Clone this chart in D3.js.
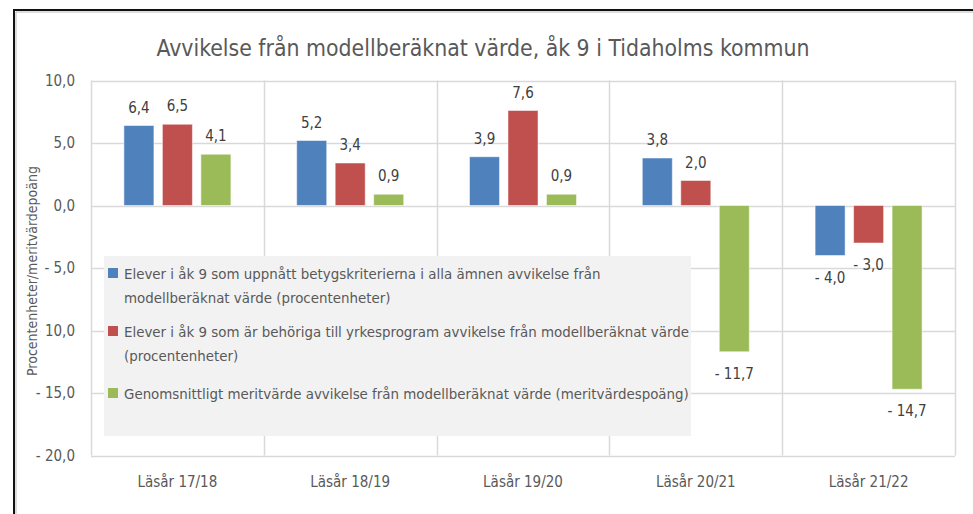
<!DOCTYPE html>
<html>
<head>
<meta charset="utf-8">
<script src="https://cdn.jsdelivr.net/npm/d3@7"></script>
<style>
  html, body { margin: 0; padding: 0; background: #fff; }
  svg { display: block; }
  text { font-family: "Liberation Sans Narrow", "DejaVu Sans Condensed", "Roboto Condensed", "Open Sans", sans-serif; }
</style>
</head>
<body>
<div id="chart"></div>
<script>
const title = "Avvikelse från modellberäknat värde, åk 9 i Tidaholms kommun";
const yTitle = "Procentenheter/meritvärdepoäng";
const categories = ["Läsår 17/18", "Läsår 18/19", "Läsår 19/20", "Läsår 20/21", "Läsår 21/22"];
const seriesNames = [
  ["Elever i åk 9 som uppnått betygskriterierna i alla ämnen avvikelse från", "modellberäknat värde (procentenheter)"],
  ["Elever i åk 9 som är behöriga till yrkesprogram avvikelse från modellberäknat värde", "(procentenheter)"],
  ["Genomsnittligt meritvärde avvikelse från modellberäknat värde (meritvärdespoäng)"]
];
const seriesColors = ["#4F81BD", "#C0504D", "#9BBB59"];
const blueValues = [6.4, 5.2, 3.9, 3.8, -4.0];
const redValues = [6.5, 3.4, 7.6, 2.0, -3.0];
const greenValues = [4.1, 0.9, 0.9, -11.7, -14.7];
const yTicks = [10, 5, 0, -5, -10, -15, -20];
const seriesValues = [blueValues, redValues, greenValues];

const W = 973, H = 514;
const svg = d3.select("#chart").append("svg").attr("width", W).attr("height", H);

const plot = { left: 91, right: 955, top: 80.5, bottom: 455.5 };

// outer frame
svg.append("path")
  .attr("d", `M14,514 L14,10 L973,10`)
  .attr("fill", "none").attr("stroke", "#111").attr("stroke-width", 2);
svg.append("path")
  .attr("d", `M16,514 L16,12 L973,12`)
  .attr("fill", "none").attr("stroke", "#bbb").attr("stroke-width", 1);

const x0 = d3.scaleBand().domain(categories).range([plot.left, plot.right]).padding(0);
const x1 = d3.scaleBand().domain([0, 1, 2]).range([-53.5, 53.5]).paddingInner(0.22);
const y = d3.scaleLinear().domain([-20, 10]).range([plot.bottom, plot.top]);

const fmt = v => {
  const s = Math.abs(v).toFixed(1).replace(".", ",");
  return v < 0 ? "- " + s : s;
};

// gridlines
const g = svg.append("g");
g.selectAll("line.h").data(yTicks).join("line")
  .attr("x1", plot.left).attr("x2", plot.right)
  .attr("y1", d => Math.round(y(d)) + 0.5).attr("y2", d => Math.round(y(d)) + 0.5)
  .attr("stroke", "#D9D9D9").attr("stroke-width", 1.5);
const bounds = categories.map(c => x0(c)).concat([plot.right]);
g.selectAll("line.v").data(bounds).join("line")
  .attr("x1", d => Math.round(d) + 0.5).attr("x2", d => Math.round(d) + 0.5)
  .attr("y1", plot.top).attr("y2", plot.bottom)
  .attr("stroke", "#D9D9D9").attr("stroke-width", 1.5);

// y tick labels
svg.append("g").selectAll("text").data(yTicks).join("text")
  .attr("x", 75).attr("y", d => y(d) + 5)
  .attr("text-anchor", "end").attr("font-size", 15).attr("fill", "#595959")
  .text(d => fmt(d));

// y axis title with opaque background
const yt = svg.append("g").attr("transform", "translate(32,271) rotate(-90)");
yt.append("rect").attr("x", -104).attr("y", -10).attr("width", 208).attr("height", 18).attr("fill", "#fff");
yt.append("text").attr("x", 0).attr("y", 5).attr("text-anchor", "middle")
  .attr("font-size", 14).attr("fill", "#595959").text(yTitle);

// bars
const bars = svg.append("g");
seriesValues.forEach((vals, si) => {
  bars.selectAll(null).data(vals.map((v, i) => ({ v, c: categories[i] }))).join("rect")
    .attr("x", d => x0(d.c) + x0.bandwidth() / 2 + x1(si))
    .attr("width", x1.bandwidth())
    .attr("y", d => y(Math.max(0, d.v)))
    .attr("height", d => Math.abs(y(d.v) - y(0)))
    .attr("fill", seriesColors[si])
    .attr("stroke", "#ffffff").attr("stroke-opacity", 0.5).attr("stroke-width", 1);
  bars.selectAll(null).data(vals.map((v, i) => ({ v, c: categories[i] }))).join("text")
    .attr("x", d => x0(d.c) + x0.bandwidth() / 2 + x1(si) + x1.bandwidth() / 2)
    .attr("y", d => d.v >= 0 ? y(d.v) - 13 : y(d.v) + 27)
    .attr("text-anchor", "middle").attr("font-size", 15).attr("fill", "#404040")
    .text(d => fmt(d.v));
});

// category labels
svg.append("g").selectAll("text").data(categories).join("text")
  .attr("x", d => x0(d) + x0.bandwidth() / 2).attr("y", 487)
  .attr("text-anchor", "middle").attr("font-size", 15).attr("fill", "#595959")
  .text(d => d);

// title
svg.append("text").attr("x", 483).attr("y", 56).attr("text-anchor", "middle")
  .attr("font-size", 22.8).attr("fill", "#595959").text(title);

// legend
const lg = svg.append("g");
lg.append("rect").attr("x", 104).attr("y", 256).attr("width", 587).attr("height", 180).attr("fill", "#F2F2F2");
const lineY = [[273, 297], [331, 355], [393]];
seriesNames.forEach((lines, si) => {
  lg.append("rect").attr("x", 108).attr("y", lineY[si][0] - 5).attr("width", 10).attr("height", 10)
    .attr("fill", seriesColors[si]);
  lines.forEach((t, li) => {
    lg.append("text").attr("x", 124).attr("y", lineY[si][li] + 5.5)
      .attr("font-size", 14.9).attr("fill", "#595959").text(t);
  });
});
</script>
</body>
</html>
